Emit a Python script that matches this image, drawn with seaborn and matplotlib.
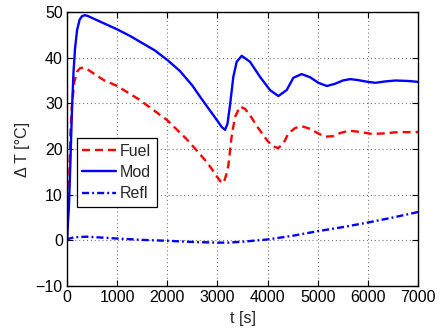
import matplotlib
matplotlib.use("Agg")
import matplotlib.pyplot as plt
import seaborn as sns
import pandas as pd

# Moderator temperature rise
t_mod = [0, 40, 70, 100, 130, 160, 200, 250, 300, 360, 420, 600, 800, 1000, 1250,
         1500, 1750, 2000, 2250, 2500, 2650, 2800, 2985, 3087, 3152, 3200, 3251,
         3317, 3384, 3484, 3650, 3849, 4049, 4215, 4381, 4514, 4680, 4850, 5012,
         5183, 5350, 5500, 5650, 5800, 6000, 6150, 6350, 6550, 6800, 7000]
dT_mod = [0, 8, 18, 29, 37, 42, 46, 48.3, 49.1, 49.3, 49.1, 48.2, 47.2, 46.2, 44.8,
          43.2, 41.6, 39.5, 37.1, 33.9, 31.5, 29.2, 26.4, 24.8, 24.2, 25.5, 29.6,
          35.8, 39.1, 40.4, 39.1, 35.8, 32.9, 31.6, 32.9, 35.6, 36.4, 35.7, 34.5,
          33.8, 34.3, 35.0, 35.3, 35.1, 34.7, 34.5, 34.8, 35.0, 34.9, 34.7]

# Fuel temperature rise
t_fuel = [0, 40, 70, 100, 146, 200, 260, 320, 400, 730, 1000, 1430, 2000, 2400,
          2800, 3000, 3090, 3130, 3180, 3220, 3280, 3350, 3450, 3550, 3650, 3800,
          3983, 4100, 4215, 4320, 4414, 4550, 4680, 4850, 5012, 5150, 5300, 5450,
          5620, 5800, 6080, 6300, 6600, 7000]
dT_fuel = [0, 12, 24, 30, 34.7, 36.9, 37.7, 37.8, 37.5, 35.1, 33.8, 30.9, 26.3, 22.0,
           17.0, 13.8, 12.5, 12.8, 14.5, 16.5, 22.5, 27.0, 29.3, 28.8, 27.4, 24.8,
           22.0, 20.6, 20.2, 21.3, 23.4, 24.6, 25.0, 24.4, 23.4, 22.7, 22.8, 23.5,
           24.0, 23.8, 23.3, 23.4, 23.7, 23.7]

# Reflector temperature rise
t_refl = [0, 50, 150, 400, 700, 1000, 1500, 2000, 2500, 3000, 3200, 3500, 4000,
          4500, 5000, 5500, 6000, 6500, 7000]
dT_refl = [0, 0.4, 0.7, 0.8, 0.6, 0.4, 0.1, -0.1, -0.35, -0.5, -0.5, -0.3, 0.2,
           1.0, 2.0, 2.9, 3.9, 5.0, 6.2]

x_ticks = [0, 1000, 2000, 3000, 4000, 5000, 6000, 7000]
y_ticks = [-10, 0, 10, 20, 30, 40, 50]

sns.set_style("ticks")
plt.rcParams["font.family"] = ["Liberation Sans", "DejaVu Sans"]
plt.rcParams["font.size"] = 11.5

fig = plt.figure(figsize=(4.45, 3.28), dpi=100)
ax = fig.add_axes([0.1506, 0.128, 0.7887, 0.8354])

fuel = pd.DataFrame({"t": t_fuel, "dT": dT_fuel})
mod = pd.DataFrame({"t": t_mod, "dT": dT_mod})
refl = pd.DataFrame({"t": t_refl, "dT": dT_refl})

lw = 1.7
sns.lineplot(data=fuel, x="t", y="dT", ax=ax, color="#ff0000", lw=lw,
             label="Fuel").lines[-1].set_dashes((3.4, 2.1))
sns.lineplot(data=mod, x="t", y="dT", ax=ax, color="#0000ff", lw=lw,
             linestyle="-", label="Mod")
sns.lineplot(data=refl, x="t", y="dT", ax=ax, color="#0000ff", lw=lw,
             label="Refl").lines[-1].set_dashes((3.0, 1.3, 0.8, 1.3))

ax.set_xlim(0, 7000)
ax.set_ylim(-10, 50)
ax.set_xticks(x_ticks)
ax.set_yticks(y_ticks)
ax.set_xlabel("t [s]", labelpad=4)
ax.set_ylabel("Δ T [°C]", labelpad=4)

ax.grid(True, linestyle=(0, (1, 2.5)), color="#777777", linewidth=0.8)
ax.tick_params(direction="in", top=True, right=True, length=4, width=0.8,
               colors="black", labelsize=11.5, pad=3)
for s in ax.spines.values():
    s.set_color("black")
    s.set_linewidth(1.0)

leg = ax.legend(loc="upper left", bbox_to_anchor=(0.028, 0.54), borderaxespad=0,
                fancybox=False, framealpha=1, edgecolor="black", handlelength=2.1,
                labelspacing=0.4, handletextpad=0.25, borderpad=0.35, fontsize=11.5)
leg.get_frame().set_linewidth(0.9)

fig.savefig("out.png", dpi=100)
